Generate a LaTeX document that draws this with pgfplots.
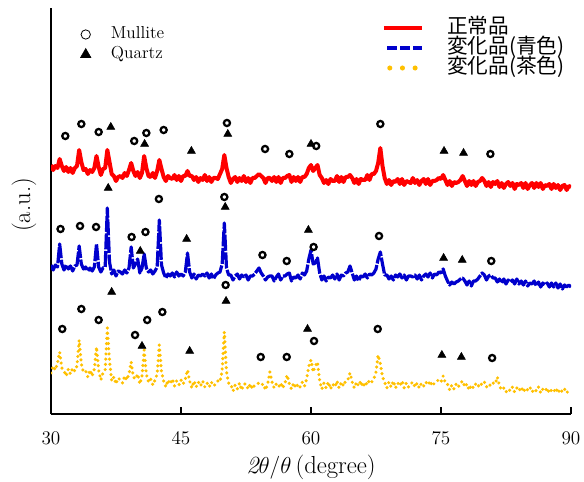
\documentclass[border=0pt]{standalone}
\usepackage{pgfplots}
\pgfplotsset{compat=1.18}
\usepackage{pgfplotstable}
\usepackage{fontspec}
\newfontfamily\cjk{Noto Sans CJK JP}
\definecolor{xred}{RGB}{255,0,0}
\definecolor{xblue}{RGB}{0,0,204}
\definecolor{xgold}{RGB}{255,192,0}

% XRD patterns, intensities in arbitrary (offset) units
\pgfplotstableread{
x r b y
30.00 249 149 41
30.25 244 144 48
30.50 248 149 44
30.75 246 147 51
31.00 255 170 62
31.25 248 150 46
31.50 243 144 43
31.75 247 149 38
32.00 242 145 45
32.25 246 148 40
32.50 241 143 46
32.75 246 148 43
33.00 248 149 48
33.25 264 168 74
33.50 252 150 50
33.75 244 145 42
34.00 245 147 43
34.25 240 143 37
34.50 244 146 44
34.75 242 143 38
35.00 246 147 45
35.25 258 170 67
35.50 247 147 44
35.75 239 142 34
36.00 245 146 41
36.25 246 147 44
36.50 264 206 86
36.75 252 152 54
37.00 240 140 33
37.25 238 144 37
37.50 233 138 30
37.75 237 143 36
38.00 238 142 34
38.25 236 140 31
38.50 241 144 38
38.75 238 141 34
39.00 244 146 40
39.25 251 167 52
39.50 243 146 37
39.75 238 150 35
40.00 242 155 40
40.25 236 141 30
40.50 241 146 38
40.75 258 160 64
41.00 246 146 40
41.25 238 142 32
41.50 237 144 35
41.75 241 140 29
42.00 236 143 34
42.25 243 147 40
42.50 254 194 69
42.75 245 149 42
43.00 237 141 33
43.25 233 136 27
43.50 238 140 34
43.75 236 138 30
44.00 235 141 35
44.25 239 137 28
44.50 234 142 33
44.75 238 138 29
45.00 233 140 34
45.25 238 138 30
45.50 238 142 35
45.75 243 161 44
46.00 238 142 33
46.25 238 136 26
46.50 234 140 33
46.75 237 135 27
47.00 232 139 32
47.25 236 138 28
47.50 234 140 33
47.75 239 138 27
48.00 233 141 31
48.25 237 136 27
48.50 232 140 32
48.75 236 135 28
49.00 236 139 30
49.25 235 141 33
49.50 240 142 32
49.75 245 150 44
50.00 259 191 82
50.25 246 146 42
50.50 237 139 31
50.75 231 139 30
51.00 235 134 23
51.25 237 138 29
51.50 232 140 25
51.75 236 135 31
52.00 233 139 24
52.25 238 137 30
52.50 232 139 30
52.75 236 134 25
53.00 231 138 30
53.25 236 138 25
53.50 236 140 29
53.75 238 143 30
54.00 240 146 31
54.25 238 141 29
54.50 236 138 30
54.75 231 134 24
55.00 236 137 30
55.25 236 138 42
55.50 233 138 32
55.75 237 133 26
56.00 232 137 30
56.25 237 140 27
56.50 231 134 31
56.75 236 138 26
57.00 236 138 31
57.25 238 140 39
57.50 239 141 30
57.75 232 133 25
58.00 237 137 31
58.25 233 136 26
58.50 237 139 30
58.75 232 135 27
59.00 237 141 32
59.25 237 139 28
59.50 240 143 35
59.75 246 155 48
60.00 249 164 54
60.25 243 150 42
60.50 246 151 48
60.75 249 156 52
61.00 239 141 33
61.25 236 134 25
61.50 231 138 31
61.75 234 133 26
62.00 230 137 32
62.25 235 136 25
62.50 233 139 30
62.75 233 135 27
63.00 238 140 33
63.25 232 134 26
63.50 237 139 32
63.75 232 138 28
64.00 237 141 33
64.25 237 142 34
64.50 239 148 41
64.75 236 141 32
65.00 231 134 26
65.25 235 138 32
65.50 230 133 28
65.75 235 138 33
66.00 234 137 27
66.25 234 140 32
66.50 239 136 29
66.75 234 140 34
67.00 240 139 32
67.25 240 141 35
67.50 243 145 42
67.75 251 155 59
68.00 266 162 50
68.25 248 150 37
68.50 236 139 32
68.75 230 139 26
69.00 234 135 32
69.25 229 138 27
69.50 233 134 33
69.75 232 139 26
70.00 235 137 31
70.25 230 140 28
70.50 235 136 33
70.75 229 139 26
71.00 233 134 31
71.25 232 138 27
71.50 231 138 30
71.75 236 137 32
72.00 231 139 27
72.25 234 135 31
72.50 229 139 26
72.75 233 134 31
73.00 235 138 28
73.25 230 140 32
73.50 235 137 29
73.75 229 141 33
74.00 233 136 28
74.25 233 140 31
74.50 234 139 33
74.75 236 142 34
75.00 235 141 32
75.25 239 145 38
75.50 234 138 31
75.75 229 133 30
76.00 233 129 24
76.25 228 132 29
76.50 232 130 25
76.75 231 132 30
77.00 232 133 27
77.25 234 135 31
77.50 238 136 33
77.75 233 133 27
78.00 228 129 30
78.25 233 133 24
78.50 229 128 29
78.75 233 133 26
79.00 228 133 30
79.25 232 135 27
79.50 233 138 31
79.75 236 141 29
80.00 233 139 32
80.25 228 134 27
80.50 232 138 30
80.75 227 139 28
81.00 232 136 31
81.25 230 136 30
81.50 233 132 37
81.75 227 135 28
82.00 231 131 24
82.25 226 135 26
82.50 230 130 22
82.75 232 134 25
83.00 228 132 23
83.25 231 134 27
83.50 225 130 22
83.75 230 135 26
84.00 229 130 23
84.25 231 133 27
84.50 226 129 22
84.75 231 133 26
85.00 225 128 24
85.25 229 131 27
85.50 231 130 22
85.75 226 133 25
86.00 231 128 23
86.25 227 132 27
86.50 231 127 21
86.75 225 131 25
87.00 229 129 23
87.25 228 131 26
87.50 230 127 21
87.75 225 131 24
88.00 230 127 22
88.25 226 131 26
88.50 229 126 21
88.75 224 130 25
89.00 228 125 22
89.25 229 129 25
89.50 224 127 21
89.75 228 129 24
90.00 227 127 23
}\xrd

% peak assignments
\pgfplotstableread{
x y
31.65 278
33.5 290
35.5 282
39.6 273
41.0 281
43.0 284
50.3 291
54.7 265
57.5 260
60.6 268
68.0 290
80.7 260
31.1 185
33.35 188
35.2 187
39.3 177
40.9 182
42.45 215
50.0 217
54.4 159
57.2 153
60.3 167
67.85 178
80.8 153
31.3 85
33.5 105
35.5 94
39.7 79
41.1 94
42.85 102
50.15 129
54.2 57
57.2 57
60.35 73
67.7 85
80.9 56
}\mullite

\pgfplotstableread{
x y
36.9 287
40.8 270
46.2 263
50.4 280
60.0 270
75.35 263
77.6 261
36.6 226
40.3 163
45.65 175
50.1 207
59.7 184
75.3 156
77.45 154
37.0 122
40.5 68
46.0 63
50.2 113
59.6 85
75.1 59
77.35 57
}\quartz

\begin{document}
\begin{tikzpicture}
  \begin{axis}[
      scale only axis,
      width=390pt, height=304.5pt,
      xmin=30, xmax=90, ymin=0, ymax=406,
      axis x line=bottom, axis y line=left,
      axis line style={-, line width=1pt, black},
      xtick={30,45,60,75,90}, ytick=\empty,
      tick align=inside,
      major tick length=5pt,
      tick style={line width=0.8pt, black},
      ticklabel style={font=\fontsize{14}{16}\selectfont},
      xticklabel style={yshift=-10pt},
      xlabel={$\mathit{2}\theta\mathit{/}\theta$\,(degree)},
      ylabel={(a.u.)},
      label style={font=\fontsize{18.5}{20}\selectfont},
      xlabel style={at={(axis description cs:0.5,-0.132)}, anchor=center},
      ylabel style={at={(axis description cs:-0.052,0.515)}, anchor=center},
      legend style={
          draw=none, fill=none,
          at={(axis description cs:0.6365,0.976)},
          anchor=north west,
          font=\fontsize{15.5}{15.5}\selectfont,
          inner sep=0pt, row sep=0pt,
          nodes={inner sep=0pt, text height=11.5pt, text depth=3.5pt},
          /tikz/every odd column/.append style={column sep=17pt},
      },
      legend cell align=left,
  ]
  \addplot[xred, line width=3pt, line join=round,
      legend image code/.code={\draw[xred, line width=2.3pt] (0pt,0pt) -- (29pt,0pt);}]
      table[x=x, y=r] {\xrd};
  \addlegendentry{\cjk 正常品}

  \addplot[xblue, line width=2.4pt, line join=round, dash pattern=on 12pt off 1.2pt,
      legend image code/.code={\draw[xblue, line width=3pt, dash pattern=on 7.5pt off 2.25pt] (2.5pt,0pt) -- (29pt,0pt);}]
      table[x=x, y=b] {\xrd};
  \addlegendentry{\cjk 変化品(青色)}

  \addplot[xgold, line width=2.6pt, line cap=round, dash pattern=on 0pt off 3.9pt,
      legend image code/.code={\draw[xgold, line width=3.8pt, line cap=round, dash pattern=on 0pt off 9.5pt] (4.5pt,0pt) -- (24pt,0pt);}]
      table[x=x, y=y] {\xrd};
  \addlegendentry{\cjk 変化品(茶色)}
  \end{axis}

  \begin{axis}[
      scale only axis,
      width=390pt, height=304.5pt,
      xmin=30, xmax=90, ymin=0, ymax=406,
      hide axis,
      legend style={
          draw=none, fill=none,
          at={(axis description cs:0.0563,0.960)},
          anchor=north west,
          font=\fontsize{13}{13}\selectfont,
          inner sep=0pt, row sep=0pt,
          nodes={inner sep=0pt, text height=10.5pt, text depth=4.5pt},
          /tikz/every odd column/.append style={column sep=15pt},
      },
      legend cell align=left,
  ]
  \addplot[only marks, mark=o, mark size=2.3pt,
      mark options={line width=1.7pt, black},
      legend image code/.code={\draw[black, line width=0.6pt] (3.5pt,0pt) circle (3.5pt);}]
      table {\mullite};
  \addlegendentry{Mullite}

  \addplot[only marks, mark=triangle*, mark size=3.4pt, black,
      legend image code/.code={\draw[black, only marks, mark=triangle*, mark size=4.5pt] plot coordinates {(3.5pt,0pt)};}]
      table {\quartz};
  \addlegendentry{Quartz}
  \end{axis}

  \pgfresetboundingbox
  \path (-38.25pt,-50.25pt) rectangle (399.75pt,310.5pt);
\end{tikzpicture}
\end{document}
